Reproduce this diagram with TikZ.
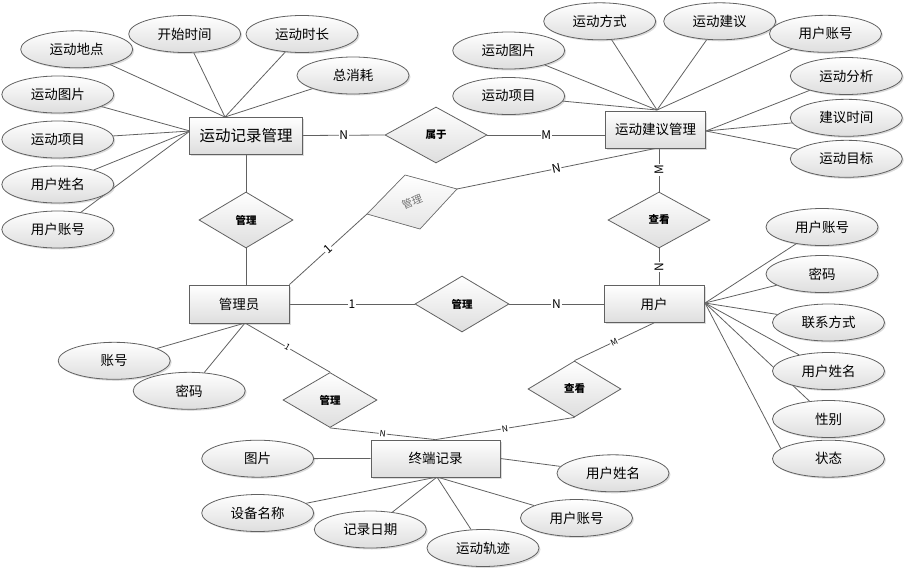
\documentclass[tikz,border=0pt]{standalone}
\usepackage{fontspec}
\setmainfont{Noto Sans CJK SC}
\usetikzlibrary{shapes.geometric,shadows,backgrounds}

\begin{document}
\begin{tikzpicture}[x=1pt,y=-1pt,
  line/.style={draw=black!62,line width=0.8pt},
  softfill/.style={top color=white,bottom color=black!13},
  shadowed/.style={drop shadow={opacity=0.28,shadow xshift=1.5pt,shadow yshift=-1.5pt}},
  entity/.style={rectangle,line,softfill,shadowed,minimum width=100pt,minimum height=37pt,
    inner sep=0pt,font=\fontsize{13.5}{14}\selectfont},
  attr/.style={ellipse,line,softfill,shadowed,minimum width=112pt,minimum height=37pt,
    inner sep=0pt,font=\fontsize{13.5}{14}\selectfont},
  rel/.style={diamond,line,softfill,minimum width=94pt,minimum height=56pt,
    inner sep=0pt,font=\bfseries\fontsize{10.5}{11}\selectfont},
  card/.style={fill=white,inner sep=0.8pt,font=\fontsize{12}{12}\selectfont},
  smallcard/.style={card,font=\fontsize{8.5}{8.5}\selectfont}]

\useasboundingbox (0,0) rectangle (908,576);

% entities
\node[entity,minimum width=113pt,font=\fontsize{15.5}{16}\selectfont] (jlgl) at (246,135.5) {运动记录管理};
\node[entity] (jygl) at (655.7,129.5) {运动建议管理};
\node[entity,minimum height=38pt] (gly) at (239,304) {管理员};
\node[entity] (yh) at (654,304) {用户};
\node[entity,minimum width=129pt] (zdjl) at (435.5,458.5) {终端记录};

% relationships
\node[rel,minimum width=102pt] (sy) at (436,135) {属于};
\node[rel] (gl1) at (246,220) {管理};
\node[rel,minimum width=102pt] (ck1) at (659,220) {查看};
\node[rel] (gl2) at (462,304) {管理};
\node[rel,minimum height=55pt] (gl3) at (330,400) {管理};
\node[rel,minimum width=93pt] (ck2) at (574.5,389) {查看};

% the skewed one
\coordinate (gT) at (405,175);
\coordinate (gR) at (457,189);
\coordinate (gB) at (420,229);
\coordinate (gL) at (367,214);
\filldraw[draw=black!55,line width=0.7pt,top color=white,bottom color=black!10] (gT) -- (gR) -- (gB) -- (gL) -- cycle;
\node[rotate=22,text=black!55,font=\fontsize{10.5}{11}\selectfont] (gltext) at (412,202) {管理};

% attributes of 运动记录管理
\node[attr] (jl1) at (76.7,49.3) {运动地点};
\node[attr] (jl2) at (184.7,34) {开始时间};
\node[attr] (jl3) at (302,34) {运动时长};
\node[attr] (jl4) at (353,75.5) {总消耗};
\node[attr] (jl5) at (57.8,94.5) {运动图片};
\node[attr] (jl6) at (57.8,139.5) {运动项目};
\node[attr] (jl7) at (57.8,184.5) {用户姓名};
\node[attr] (jl8) at (57.8,229.5) {用户账号};
\coordinate (jltop) at (225,117);
\coordinate (jlleft) at (190,131);

% attributes of 运动建议管理
\node[attr] (jy1) at (599.7,21.3) {运动方式};
\node[attr] (jy2) at (719.7,21.3) {运动建议};
\node[attr] (jy3) at (825.5,33.8) {用户账号};
\node[attr] (jy4) at (508.7,50.5) {运动图片};
\node[attr] (jy5) at (508.7,96) {运动项目};
\node[attr] (jy6) at (846.3,76) {运动分析};
\node[attr] (jy7) at (846.3,117.8) {建议时间};
\node[attr] (jy8) at (846.3,158.8) {运动目标};
\coordinate (jytop) at (657,110);
\coordinate (jyright) at (706,131);

% attributes of 用户
\node[attr] (yh1) at (822,227) {用户账号};
\node[attr] (yh2) at (822,274) {密码};
\node[attr] (yh3) at (828.5,322.5) {联系方式};
\node[attr] (yh4) at (828.5,371) {用户姓名};
\node[attr] (yh5) at (828.5,419) {性别};
\node[attr] (yh6) at (828.5,458.7) {状态};
\coordinate (yhright) at (705,303);

% attributes of 管理员
\coordinate (glybot) at (245,323);
\node[attr] (gly1) at (114.2,360.8) {账号};
\node[attr] (gly2) at (189.2,390.8) {密码};

% attributes of 终端记录
\node[attr] (zd1) at (257.7,458.7) {图片};
\node[attr] (zd2) at (257.7,513) {设备名称};
\node[attr] (zd3) at (370.3,529.5) {记录日期};
\node[attr] (zd4) at (483,548) {运动轨迹};
\node[attr] (zd5) at (576.5,518) {用户账号};
\node[attr] (zd6) at (613,473.3) {用户姓名};
\coordinate (zdbot) at (437,477);

\begin{scope}[on background layer]
% attribute lines
\foreach \a in {jl1,jl2,jl3,jl4} \draw[line] (\a) -- (jltop);
\foreach \a in {jl5,jl6,jl7,jl8} \draw[line] (\a) -- (jlleft);
\foreach \a in {jy1,jy2,jy3,jy4,jy5} \draw[line] (\a) -- (jytop);
\foreach \a in {jy6,jy7,jy8} \draw[line] (\a) -- (jyright);
\foreach \a in {yh1,yh2,yh3,yh4,yh5} \draw[line] (\a) -- (yhright);
\draw[line] (yh6.168) -- (yhright);
\foreach \a in {gly1,gly2} \draw[line] (\a) -- (glybot);
\draw[line] (zd1) -- (zdjl.west);
\foreach \a in {zd2,zd3,zd4,zd5} \draw[line] (\a) -- (zdbot);
\draw[line] (zd6) -- (zdjl.east);

% relationship lines
\draw[line] (jlgl.east) -- node[card]{N} (sy.west);
\draw[line] (sy.east) -- node[card]{M} (sy.east -| jygl.west);
\draw[line] (jlgl.south) -- (gl1.north);
\draw[line] (gl1.south) -- (gl1.south |- gly.north);
\draw[line] (gly.north east) -- node[card,sloped]{1} (gL);
\draw[line] (gR) -- node[card,sloped]{N} (jygl.south);
\draw[line] (ck1.north |- jygl.south) -- node[card,rotate=90]{M} (ck1.north);
\draw[line] (ck1.south) -- node[card,rotate=90]{N} (ck1.south |- yh.north);
\draw[line] (gly.east) -- node[card]{1} (gl2.west);
\draw[line] (gl2.east) -- node[card]{N} (yh.west);
\draw[line] (yh.south) -- node[smallcard,sloped]{M} (ck2.north);
\draw[line] (ck2.south) -- node[smallcard,sloped]{N} (zdjl.north);
\draw[line] (glybot) -- node[smallcard,sloped]{1} (gl3.north);
\draw[line] (gl3.south) -- node[smallcard,sloped]{N} (zdjl.north);
\end{scope}

\end{tikzpicture}
\end{document}
